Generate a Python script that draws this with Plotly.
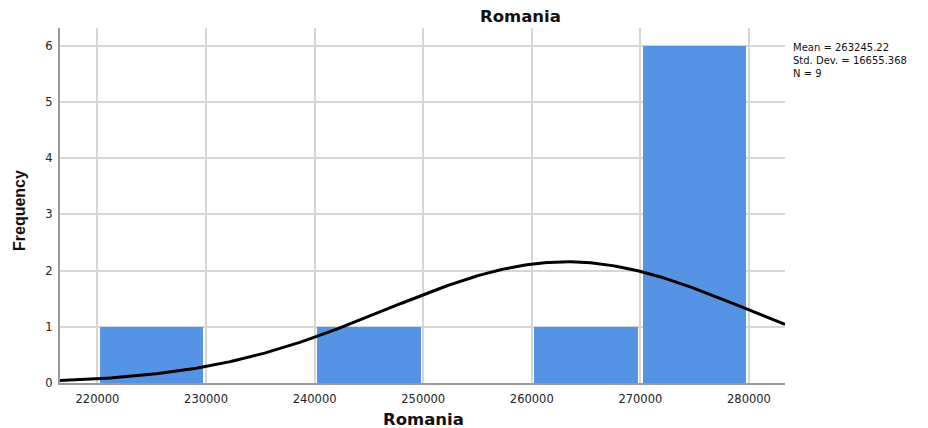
import numpy as np
import plotly.graph_objects as go

# Histogram of Romania values (bin width 10000)
bin_starts = [220000, 230000, 240000, 250000, 260000, 270000]
frequencies = [1, 0, 1, 0, 1, 6]
bin_width = 10000

# Summary statistics shown beside the chart
mean_val = 263245.22
std_dev = 16655.368
n_obs = 9

x_range = [216550, 283320]
y_range = [0, 6.315]
x_ticks = [220000, 230000, 240000, 250000, 260000, 270000, 280000]
y_ticks = [0, 1, 2, 3, 4, 5, 6]

bar_color = "#5594E4"
wide_font = "DejaVu Sans, Verdana, sans-serif"
narrow_font = "Liberation Sans, Arial, sans-serif"
text_color = "#111111"

# plot area in pixels
L, R, T, B = 60, 785, 28, 383
W, H = 928, 428

fig = go.Figure()

# bars a little narrower than the bin so the grid shows in the gap
fig.add_trace(go.Bar(
    x=[b + bin_width / 2 for b in bin_starts],
    y=frequencies,
    width=bin_width * 0.952,
    marker=dict(color=bar_color, line=dict(width=0)),
    hoverinfo="skip",
))

# Normal curve scaled to counts: N * bin width * pdf
xs = np.linspace(x_range[0], x_range[1], 400)
ys = n_obs * bin_width * np.exp(-0.5 * ((xs - mean_val) / std_dev) ** 2) / (std_dev * np.sqrt(2 * np.pi))
fig.add_trace(go.Scatter(
    x=xs, y=ys, mode="lines",
    line=dict(color="black", width=3),
    hoverinfo="skip",
))

fig.update_layout(
    width=W, height=H,
    margin=dict(l=L, r=W - R, t=T, b=H - B),
    paper_bgcolor="white",
    plot_bgcolor="white",
    showlegend=False,
    bargap=0,
    font=dict(family=wide_font, color="#222222", size=11.5),
)

fig.update_xaxes(
    range=x_range,
    tickvals=x_ticks,
    ticktext=[str(t) for t in x_ticks],
    showgrid=True, gridcolor="#d6d6d6", gridwidth=2,
    showline=True, linecolor="#9a9a9a", linewidth=2,
    zeroline=False, ticks="outside", ticklen=4, tickcolor="rgba(0,0,0,0)",
    tickfont=dict(family=wide_font, size=11.5, color="#222222"),
    automargin=False,
)
fig.update_yaxes(
    range=y_range,
    tickvals=y_ticks,
    showgrid=True, gridcolor="#d6d6d6", gridwidth=1.5,
    showline=True, linecolor="#9a9a9a", linewidth=2,
    zeroline=False, ticks="outside", ticklen=3, tickcolor="rgba(0,0,0,0)",
    tickfont=dict(family=wide_font, size=11.5, color="#222222"),
    automargin=False,
)

# chart title
fig.add_annotation(
    xref="paper", yref="paper", x=(520 - L) / (R - L), y=1 + (T - 16) / (B - T),
    xanchor="center", yanchor="middle", showarrow=False,
    text="<b>Romania</b>", font=dict(family=wide_font, size=16.5, color=text_color),
)
# x axis title
fig.add_annotation(
    xref="paper", yref="paper", x=(423 - L) / (R - L), y=-(419 - B) / (B - T),
    xanchor="center", yanchor="middle", showarrow=False,
    text="<b>Romania</b>", font=dict(family=wide_font, size=16.5, color=text_color),
)
# y axis title
fig.add_annotation(
    xref="paper", yref="paper", x=-(L - 19) / (R - L), y=(B - 211) / (B - T),
    xanchor="center", yanchor="middle", showarrow=False, textangle=-90,
    text="<b>Frequency</b>", font=dict(family=narrow_font, size=16, color=text_color),
)

# summary statistics block
stat_lines = [
    f"Mean = {mean_val:.2f}",
    f"Std. Dev. = {std_dev:.3f}",
    f"N = {n_obs}",
]
fig.add_annotation(
    xref="paper", yref="paper",
    x=1 + (791 - R) / (R - L), y=(B - 60) / (B - T),
    xanchor="left", yanchor="middle", showarrow=False, align="left",
    text="<br>".join(stat_lines),
    font=dict(family=wide_font, size=10, color=text_color),
)

fig.write_html("out.html")
